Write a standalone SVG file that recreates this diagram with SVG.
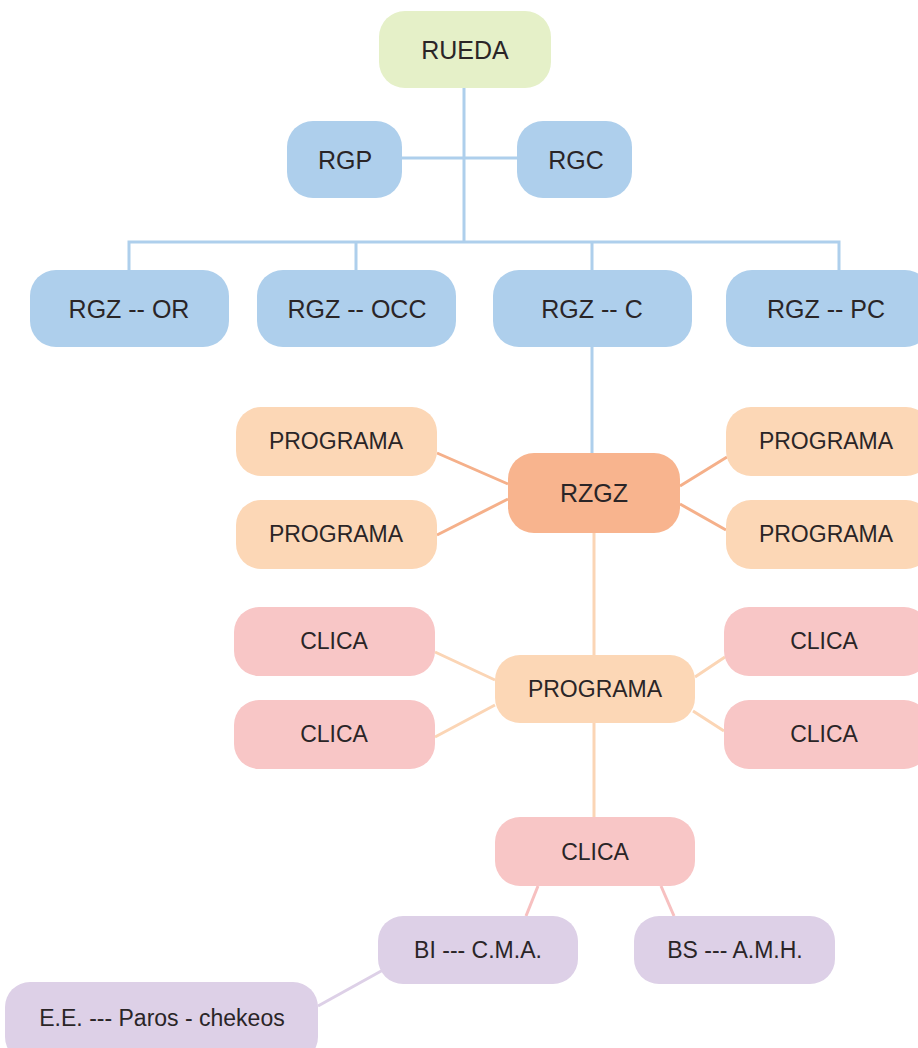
<svg xmlns="http://www.w3.org/2000/svg" width="918" height="1048" viewBox="0 0 918 1048">
<style>
text{font-family:"Liberation Sans",Arial,sans-serif;fill:#2a2527;text-anchor:middle;dominant-baseline:central}
.l{font-size:25px}.s{font-size:23px}
.blue{fill:#aecfec}.green{fill:#e5f0c8}.dark{fill:#f8b48e}.lo{fill:#fcd7b6}.pink{fill:#f8c6c6}.lav{fill:#ddd0e7}
.cb{stroke:#aecfec;stroke-width:3;fill:none}
.co{stroke:#f5b08a;stroke-width:3;fill:none}
.cl{stroke:#fbd5b5;stroke-width:3;fill:none}
.cp{stroke:#f7c0c0;stroke-width:3;fill:none}
.cv{stroke:#ddd0e7;stroke-width:3;fill:none}
</style>
<g id="connectors">
<path class="cb" d="M464 88V242M402 158H517M129 270V242H839V270M356 242V270M592 242V270M592 347V453"/>
<path class="co" d="M437 453L508 484M437 535L508 499M680 486L727 457M680 504L726 530"/>
<path class="cl" d="M594 533V655M435 652L495 680M435 737L495 705M695 677L725 657M693 711L724 731M594 723V817"/>
<path class="cp" d="M538 886L526 916M661 886L674 916"/>
<path class="cv" d="M383 970L318 1006"/>
</g>
<g id="rueda"><rect class="green" x="379" y="11" width="172" height="77" rx="26"/><text class="l" x="465" y="50">RUEDA</text></g>
<g id="rgp"><rect class="blue" x="287" y="121" width="115" height="77" rx="26"/><text class="l" x="345" y="160">RGP</text></g>
<g id="rgc"><rect class="blue" x="517" y="121" width="115" height="77" rx="26"/><text class="l" x="576" y="160">RGC</text></g>
<g id="rgz-or"><rect class="blue" x="30" y="270" width="199" height="77" rx="26"/><text class="l" x="129" y="309">RGZ -- OR</text></g>
<g id="rgz-occ"><rect class="blue" x="257" y="270" width="199" height="77" rx="26"/><text class="l" x="357" y="309">RGZ -- OCC</text></g>
<g id="rgz-c"><rect class="blue" x="493" y="270" width="199" height="77" rx="26"/><text class="l" x="592" y="309">RGZ -- C</text></g>
<g id="rgz-pc"><rect class="blue" x="726" y="270" width="205" height="77" rx="26"/><text class="l" x="826" y="309">RGZ -- PC</text></g>
<g id="rzgz"><rect class="dark" x="508" y="453" width="172" height="80" rx="26"/><text class="l" x="594" y="493">RZGZ</text></g>
<g id="prog-l1"><rect class="lo" x="236" y="407" width="201" height="69" rx="25"/><text class="s" x="336" y="441">PROGRAMA</text></g>
<g id="prog-l2"><rect class="lo" x="236" y="500" width="201" height="69" rx="25"/><text class="s" x="336" y="534">PROGRAMA</text></g>
<g id="prog-r1"><rect class="lo" x="726" y="407" width="205" height="69" rx="25"/><text class="s" x="826" y="441">PROGRAMA</text></g>
<g id="prog-r2"><rect class="lo" x="726" y="500" width="205" height="69" rx="25"/><text class="s" x="826" y="534">PROGRAMA</text></g>
<g id="prog-c"><rect class="lo" x="495" y="655" width="200" height="68" rx="25"/><text class="s" x="595" y="689">PROGRAMA</text></g>
<g id="clica-l1"><rect class="pink" x="234" y="607" width="201" height="69" rx="25"/><text class="s" x="334" y="641">CLICA</text></g>
<g id="clica-l2"><rect class="pink" x="234" y="700" width="201" height="69" rx="25"/><text class="s" x="334" y="734">CLICA</text></g>
<g id="clica-r1"><rect class="pink" x="724" y="607" width="205" height="69" rx="25"/><text class="s" x="824" y="641">CLICA</text></g>
<g id="clica-r2"><rect class="pink" x="724" y="700" width="205" height="69" rx="25"/><text class="s" x="824" y="734">CLICA</text></g>
<g id="clica-c"><rect class="pink" x="495" y="817" width="200" height="69" rx="25"/><text class="s" x="595" y="852">CLICA</text></g>
<g id="bi"><rect class="lav" x="378" y="916" width="200" height="68" rx="25"/><text class="s" x="478" y="950">BI --- C.M.A.</text></g>
<g id="bs"><rect class="lav" x="634" y="916" width="201" height="68" rx="25"/><text class="s" x="735" y="950">BS --- A.M.H.</text></g>
<g id="ee"><rect class="lav" x="5" y="982" width="313" height="80" rx="25"/><text class="s" x="162" y="1018">E.E. --- Paros - chekeos</text></g>
</svg>
